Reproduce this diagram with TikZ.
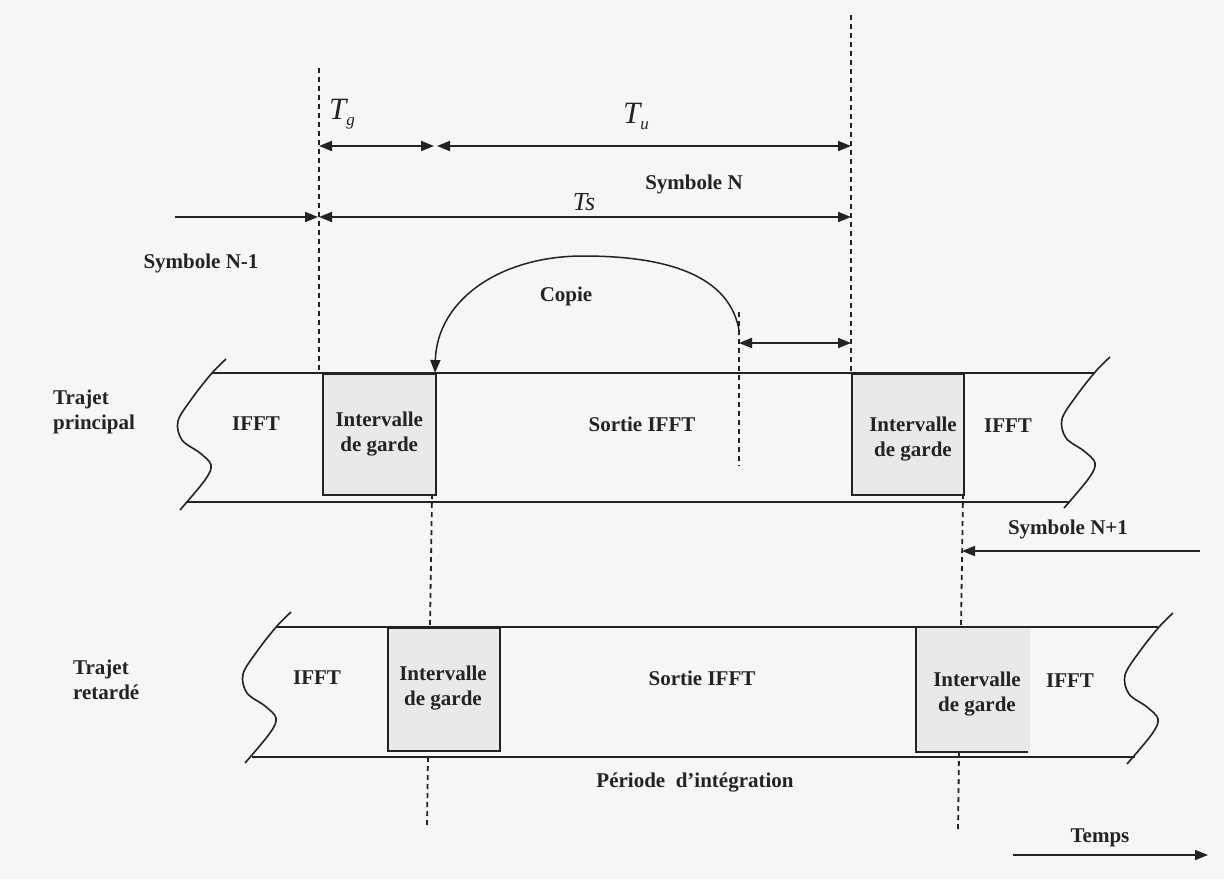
\documentclass[tikz,border=0pt]{standalone}
\usepackage{fontspec}
\setmainfont{Liberation Serif}
\usetikzlibrary{arrows.meta}
\definecolor{bg}{RGB}{246,246,246}
\definecolor{boxfill}{RGB}{233,233,233}
\definecolor{ink}{RGB}{35,35,35}
\begin{document}
\begin{tikzpicture}[x=1pt,y=-1pt, color=ink,
  lbl/.style={font=\fontsize{21}{25}\selectfont\bfseries, align=center, inner sep=0pt},
  tlab/.style={font=\fontsize{31}{31}\selectfont\itshape, inner sep=0pt},
  bandline/.style={line width=1.9pt},
  gbox/.style={draw=ink, fill=boxfill, line width=1.5pt},
  guide/.style={dash pattern=on 5pt off 4pt, line width=1.8pt},
  dimarrow/.style={line width=1.9pt, {Triangle[length=13pt,width=10pt]}-{Triangle[length=13pt,width=10pt]}},
  onearrow/.style={line width=1.9pt, -{Triangle[length=13pt,width=10pt]}},
  wavy/.pic={\draw[line width=1.6pt] plot[smooth, tension=0.55] coordinates {(0,0) (-14,14) (-33,38) (-48,62) (-44,81) (-26,94) (-15,106) (-21,121) (-46,151)};}
]
% background / bounding box
\fill[bg] (0,0) rectangle (1224,879);
\useasboundingbox (0,0) rectangle (1224,879);

% ---------- top band (Trajet principal) ----------
\node[gbox, minimum width=113pt, minimum height=121pt, anchor=north west] (gTL) at (322,373) {};
\node[gbox, minimum width=112pt, minimum height=121pt, anchor=north west] (gTR) at (851,373) {};
\draw[bandline] (212,373) -- (1095,373);
\draw[bandline] (186,502) -- (1070,502);
\pic at (226,359) {wavy};
\pic at (1110,357) {wavy};

% ---------- lower band (Trajet retardé) ----------
\node[gbox, minimum width=112pt, minimum height=123pt, anchor=north west] (gBL) at (387,627) {};
\fill[boxfill] (916,627) rectangle (1030,752);
\coordinate (gBRtop) at (916,627);
\coordinate (gBRbot) at (916,752);
\coordinate (gBRend) at (1028,752);
\draw[line width=1.5pt] (gBRtop) -- (gBRbot) -- (gBRend);
\draw[bandline] (277,627) -- (1158,627);
\draw[bandline] (252,757) -- (1135,757);
\pic at (291,612) {wavy};
\pic at (1173,613) {wavy};

% ---------- dashed guides ----------
\coordinate (d1t) at (319,68);  \coordinate (d1b) at (319,373);
\coordinate (d2t) at (851,15);  \coordinate (d2b) at (851,373);
\coordinate (d3t) at (739,312); \coordinate (d3b) at (739,466);
\coordinate (d4t) at (432,494); \coordinate (d4b) at (430,627);
\coordinate (d5t) at (428,757); \coordinate (d5b) at (427,825);
\coordinate (d6t) at (963,494); \coordinate (d6b) at (961,627);
\coordinate (d7t) at (959,752); \coordinate (d7b) at (958,830);
\draw[guide] (d1t) -- (d1b);
\draw[guide] (d2t) -- (d2b);
\draw[guide] (d3t) -- (d3b);
\draw[guide] (d4t) -- (d4b);
\draw[guide] (d5t) -- (d5b);
\draw[guide] (d6t) -- (d6b);
\draw[guide] (d7t) -- (d7b);

% ---------- dimension arrows ----------
\coordinate (tgA) at (319,146); \coordinate (tgB) at (434,146);
\coordinate (tuA) at (437,146); \coordinate (tuB) at (851,146);
\coordinate (tsA) at (319,217); \coordinate (tsB) at (851,217);
\coordinate (prevS) at (175,217); \coordinate (prevE) at (318,217);
\coordinate (smA) at (739,343); \coordinate (smB) at (851,343);
\coordinate (nxS) at (1200,551); \coordinate (nxE) at (962,551);
\coordinate (tmS) at (1013,855); \coordinate (tmE) at (1208,855);
\draw[dimarrow] (tgA) -- (tgB);
\draw[dimarrow] (tuA) -- (tuB);
\draw[dimarrow] (tsA) -- (tsB);
\draw[onearrow] (prevS) -- (prevE);
\draw[dimarrow] (smA) -- (smB);
\draw[onearrow] (nxS) -- (nxE);
\draw[onearrow] (tmS) -- (tmE);

% ---------- copy arc ----------
\coordinate (cpS) at (739,330);
\coordinate (cpE) at (435,373);
\draw[line width=1.5pt, -{Triangle[length=13pt,width=10pt]}] (cpS) .. controls (728,268) and (650,256) .. (583,256) .. controls (500,256) and (437,300) .. (cpE);

% ---------- labels ----------
\node[tlab] (Tg) at (342,114) {T\raisebox{-6pt}{\fontsize{17}{17}\selectfont g}};
\node[tlab] (Tu) at (636,116) {T\raisebox{-6pt}{\fontsize{17}{17}\selectfont u}};
\node[font=\fontsize{26}{26}\selectfont\itshape, inner sep=0pt] (Ts) at (584,202) {Ts};
\node[lbl] (symN) at (694,184) {Symbole N};
\node[lbl] (symNm) at (201,263) {Symbole N-1};
\node[lbl] (copie) at (566,296) {Copie};
\node[lbl, align=left, anchor=west] (tp) at (53,412) {Trajet\\principal};
\node[lbl] (ifft1) at (256,424) {IFFT};
\node[lbl] (ig1) at (gTL.center) {Intervalle\\de garde};
\node[lbl] (sortie1) at (642,424) {Sortie IFFT};
\node[lbl] (ig2) at (913,439) {Intervalle\\de garde};
\node[lbl] (ifft2) at (1008,426) {IFFT};
\node[lbl] (symNp) at (1068,529) {Symbole N+1};
\node[lbl, align=left, anchor=west] (tr) at (73,680) {Trajet\\retardé};
\node[lbl] (ifft3) at (317,678) {IFFT};
\node[lbl] (ig3) at (443,688) {Intervalle\\de garde};
\node[lbl] (sortie2) at (702,678) {Sortie IFFT};
\node[lbl] (ig4) at (977,694) {Intervalle\\de garde};
\node[lbl] (ifft4) at (1070,681) {IFFT};
\node[lbl] (periode) at (695,783) {Période\hspace{0.5em}d’intégration};
\node[lbl] (temps) at (1100,838) {Temps};
\end{tikzpicture}
\end{document}
